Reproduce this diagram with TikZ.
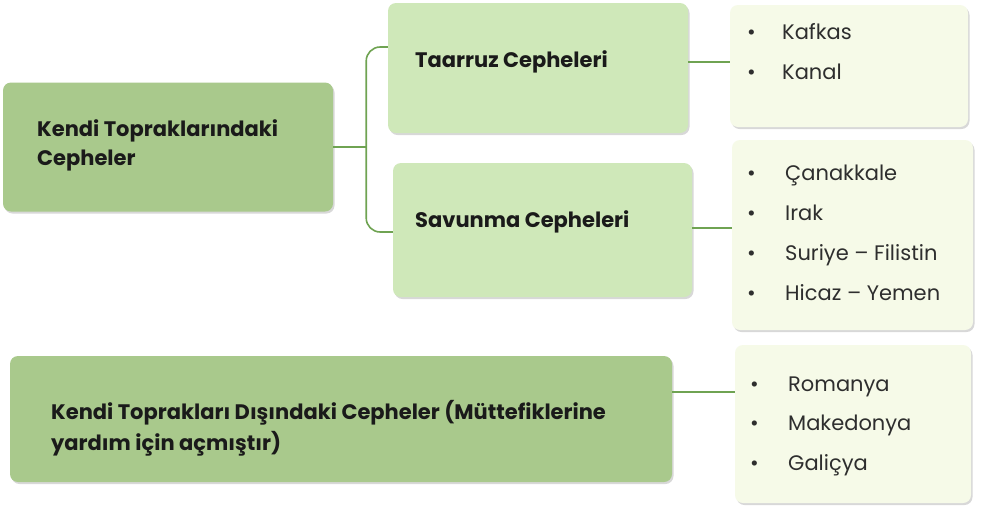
\documentclass[tikz,border=0pt]{standalone}
\usepackage{fontspec}
\setmainfont{Poppins}
\usetikzlibrary{shadows}
\definecolor{darkbox}{HTML}{A9C98C}
\definecolor{midbox}{HTML}{CFE8B9}
\definecolor{palebox}{HTML}{F6FAE8}
\definecolor{linegreen}{HTML}{6FA352}
\definecolor{txt}{HTML}{1A1A1A}
\definecolor{listtxt}{HTML}{2E2E2E}
\tikzset{
  basebox/.style={rounded corners=8pt, draw=none, inner sep=0pt,
    drop shadow={shadow xshift=1.5pt, shadow yshift=-2pt, opacity=0.25, fill=black!60}},
  mainbox/.style={basebox, fill=darkbox},
  subbox/.style={basebox, fill=midbox},
  listbox/.style={basebox, fill=palebox},
  head/.style={anchor=west, inner sep=0pt, text=txt, align=left, font=\bfseries\fontsize{21}{29}\selectfont},
  item/.style={anchor=base west, inner sep=0pt, text=listtxt, font=\fontsize{21}{25}\selectfont},
  conn/.style={draw=linegreen, line width=1.6pt}
}
\newcommand{\bul}[2]{\makebox[#1][l]{\hspace{-3pt}•}#2}
\begin{document}
\begin{tikzpicture}[x=1pt,y=-1pt]
\fill[white] (0,0) rectangle (982,507);
\useasboundingbox (0,0) rectangle (982,507);

% boxes
\node[mainbox, minimum width=330pt, minimum height=129pt] (kt) at (168,147) {};
\node[subbox, minimum width=300pt, minimum height=130pt] (ta) at (538,68) {};
\node[subbox, minimum width=299pt, minimum height=134pt] (sa) at (542.5,230) {};
\node[mainbox, minimum width=662pt, minimum height=126pt] (dt) at (341,419) {};
\node[listbox, minimum width=238pt, minimum height=122pt] (l1) at (849,66) {};
\node[listbox, minimum width=241pt, minimum height=190pt] (l2) at (852.5,235) {};
\node[listbox, minimum width=236pt, minimum height=158pt] (l3) at (853,424) {};

% headings
\node[head] (ktt) at (37,145.5) {Kendi Topraklarındaki\\Cepheler};
\node[head] (tat) at (415,62) {Taarruz Cepheleri};
\node[head] (sat) at (415,222) {Savunma Cepheleri};
\node[head, font=\bfseries\fontsize{21}{31}\selectfont] (dtt) at (51,428)
  {Kendi Toprakları Dışındaki Cepheler (Müttefiklerine\\yardım için açmıştır)};

% list items
\node[item] (i1) at (750,39.5) {\bul{32pt}{Kafkas}};
\node[item] (i2) at (750,79.5) {\bul{32pt}{Kanal}};
\node[item] (i3) at (750,180.5) {\bul{35pt}{Çanakkale}};
\node[item] (i4) at (750,220.5) {\bul{35pt}{Irak}};
\node[item] (i5) at (750,260.5) {\bul{35pt}{Suriye – Filistin}};
\node[item] (i6) at (750,300.5) {\bul{35pt}{Hicaz – Yemen}};
\node[item] (i7) at (753,391.5) {\bul{35pt}{Romanya}};
\node[item] (i8) at (753,430.5) {\bul{35pt}{Makedonya}};
\node[item] (i9) at (753,470) {\bul{35pt}{Galiçya}};

% connectors
\coordinate (br) at ([xshift=33pt]kt.east);
\draw[conn] (kt.east) -- (br);
\draw[conn, rounded corners=14pt] ([yshift=21pt]ta.west) -- ([yshift=21pt]ta.west -| br) -- ([yshift=-2pt]sa.west -| br) -- ([yshift=-2pt]sa.west);
\draw[conn] ([yshift=6pt]ta.east) -- ([yshift=6pt]ta.east -| l1.west);
\draw[conn] ([yshift=2pt]sa.east) -- ([yshift=2pt]sa.east -| l2.west);
\draw[conn] ([yshift=27pt]dt.east) -- ([yshift=27pt]dt.east -| l3.west);
\end{tikzpicture}
\end{document}
